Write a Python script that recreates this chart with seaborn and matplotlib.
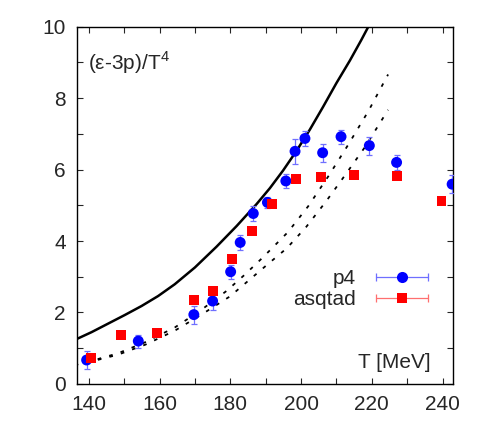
import numpy as np
import pandas as pd
import seaborn as sns
import matplotlib
matplotlib.use("Agg")
import matplotlib.pyplot as plt
from matplotlib.lines import Line2D
from matplotlib.legend_handler import HandlerLine2D, HandlerTuple

# p4 lattice data (blue circles)
p4_T = [139.4, 154.0, 169.7, 175.0, 180.1, 182.8, 186.5, 190.5, 195.7, 198.3,
        201.1, 206.1, 211.3, 219.3, 227.0, 242.7]
p4_val = [0.67, 1.20, 1.94, 2.32, 3.14, 3.96, 4.77, 5.08, 5.68, 6.51,
          6.87, 6.47, 6.92, 6.67, 6.20, 5.59]
p4_err = [0.25, 0.18, 0.25, 0.25, 0.2, 0.2, 0.2, 0.15, 0.2, 0.35,
          0.2, 0.25, 0.2, 0.25, 0.2, 0.25]

# asqtad lattice data (red squares)
asq_T = [140.7, 149.0, 159.2, 169.8, 175.1, 180.5, 186.2, 191.8, 198.6, 205.6,
         215.0, 227.1, 239.7]
asq_val = [0.72, 1.37, 1.42, 2.36, 2.61, 3.50, 4.29, 5.04, 5.74, 5.78,
           5.85, 5.83, 5.12]
asq_err = [0.08, 0.06, 0.06, 0.08, 0.08, 0.08, 0.08, 0.08, 0.08, 0.08,
           0.08, 0.08, 0.08]

# solid curve
solid_T = [136.0, 140.8, 145.5, 150.2, 154.9, 159.6, 164.3, 170.0, 176.1, 181.8,
           187.4, 191.2, 194.9, 198.7, 202.5, 206.2, 210.0, 213.8, 217.0, 220.1]
solid_val = [1.23, 1.45, 1.69, 1.93, 2.18, 2.46, 2.79, 3.26, 3.84, 4.42,
             5.03, 5.48, 5.97, 6.52, 7.12, 7.75, 8.42, 9.05, 9.62, 10.2]

# dashed curves
dash1_T = [136.0, 142.0, 148.3, 156.0, 164.3, 171.5, 178.9, 184.0, 189.3, 196.3,
           202.0, 207.7, 213.3, 219.0, 224.6]
dash1_val = [0.53, 0.68, 0.86, 1.17, 1.58, 2.05, 2.60, 3.05, 3.55, 4.25,
             4.97, 5.81, 6.69, 7.63, 8.66]
dash2_T = [136.0, 142.0, 148.3, 156.0, 164.3, 172.0, 179.9, 185.0, 190.7, 196.0,
           201.5, 207.0, 212.5, 218.0, 224.6]
dash2_val = [0.53, 0.66, 0.82, 1.10, 1.49, 1.95, 2.45, 2.88, 3.36, 3.80,
             4.40, 5.10, 5.85, 6.62, 7.67]

sns.set_style("ticks")
plt.rcParams['font.family'] = ['Liberation Sans', 'DejaVu Sans']

fig = plt.figure(figsize=(4.91, 4.29), dpi=100)
ax = fig.add_axes([0.157, 0.105, 0.766, 0.833])

dash = (0, (2.0, 4.6))
sns.lineplot(x=solid_T, y=solid_val, ax=ax, color="black", lw=1.8, sort=False)
sns.lineplot(x=dash1_T, y=dash1_val, ax=ax, color="black", lw=1.3, sort=False, linestyle=dash)
sns.lineplot(x=dash2_T, y=dash2_val, ax=ax, color="black", lw=1.3, sort=False, linestyle=dash)

ax.errorbar(p4_T, p4_val, yerr=p4_err, fmt="none", ecolor="#6f6fff", elinewidth=0.9,
            capsize=2.5, capthick=0.9, zorder=3)
sns.scatterplot(x=p4_T, y=p4_val, ax=ax, color="#0000ff", marker="o", s=62,
                edgecolor="none", zorder=4)
ax.errorbar(asq_T, asq_val, yerr=asq_err, fmt="none", ecolor="#ff6f6f", elinewidth=0.9,
            capsize=2.5, capthick=0.9, zorder=5)
sns.scatterplot(x=asq_T, y=asq_val, ax=ax, color="#ff0000", marker="s", s=50,
                edgecolor="none", zorder=6)

ax.set_xlim(136.7, 243)
ax.set_ylim(0, 10)
ax.set_xticks(np.arange(140, 241, 20))
ax.set_xticks(np.arange(140, 241, 10), minor=True)
ax.set_yticks(np.arange(0, 11, 2))
ax.set_yticks(np.arange(0, 11, 1), minor=True)
ax.tick_params(which="both", direction="in", top=True, right=True, length=4,
               width=0.8, labelsize=15, pad=8)
for s in ax.spines.values():
    s.set_linewidth(1.0)
    s.set_color("black")
ax.set_xlabel("")
ax.set_ylabel("")

ax.text(0.029, 0.90, r"(ε-3p)/T$^\mathregular{4}$", transform=ax.transAxes,
        fontsize=15, va="center", ha="left")
ax.text(0.941, 0.059, "T [MeV]", transform=ax.transAxes, fontsize=15, va="center", ha="right")

# legend proxies: line with caps plus marker in the middle
p4_bar = Line2D([], [], color="#6f6fff", lw=0.9, marker="|", markersize=6, markeredgewidth=0.9)
p4_mk = Line2D([], [], color="#0000ff", lw=0, marker="o", markersize=8, markeredgewidth=0)
asq_bar = Line2D([], [], color="#ff6f6f", lw=0.9, marker="|", markersize=6, markeredgewidth=0.9)
asq_mk = Line2D([], [], color="#ff0000", lw=0, marker="s", markersize=7, markeredgewidth=0)
hmap = {p4_bar: HandlerLine2D(numpoints=2), asq_bar: HandlerLine2D(numpoints=2),
        p4_mk: HandlerLine2D(numpoints=1), asq_mk: HandlerLine2D(numpoints=1)}
leg = ax.legend([(p4_bar, p4_mk), (asq_bar, asq_mk)], ["p4", "asqtad"],
                handler_map={tuple: HandlerTuple(ndivide=1), **hmap},
                loc="center", bbox_to_anchor=(0.762, 0.265), frameon=False,
                markerfirst=False, fontsize=15, handlelength=3.1, handletextpad=0.65,
                labelspacing=0.1, borderpad=0.2)
for t in leg.get_texts():
    t.set_ha("right")

fig.savefig("out.png", dpi=100)
